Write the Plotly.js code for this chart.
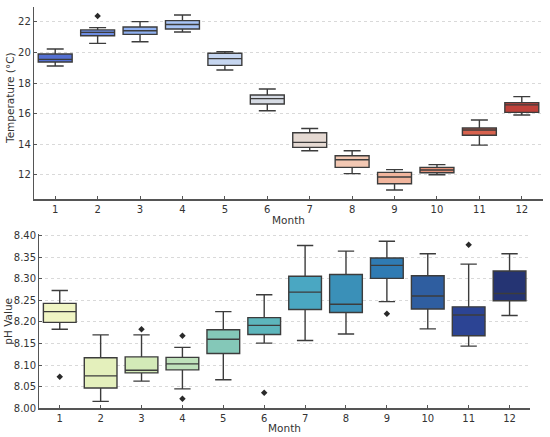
<!DOCTYPE html>
<html>
<head>
<meta charset="utf-8">
<script src="https://cdn.plot.ly/plotly-3.0.1.min.js"></script>
<style>html,body{margin:0;padding:0;background:#fff;}#chart{width:550px;height:437px;}</style>
</head>
<body>
<div id="chart"></div>
<script>
const months = [1,2,3,4,5,6,7,8,9,10,11,12];
const monthLabels = ["1","2","3","4","5","6","7","8","9","10","11","12"];

// Temperature (°C)
const tempLower  = [19.12, 20.60, 20.71, 21.34, 18.86, 16.19, 13.57, 12.07, 11.00, 12.00, 13.94, 15.91];
const tempQ1     = [19.38, 21.10, 21.19, 21.54, 19.16, 16.63, 13.79, 12.48, 11.41, 12.13, 14.58, 16.08];
const tempMedian = [19.55, 21.32, 21.43, 21.83, 19.60, 16.98, 14.12, 12.98, 11.85, 12.31, 14.93, 16.57];
const tempQ3     = [19.90, 21.48, 21.67, 22.09, 19.95, 17.22, 14.75, 13.24, 12.15, 12.48, 15.06, 16.72];
const tempUpper  = [20.23, 21.63, 22.02, 22.46, 20.06, 17.61, 15.03, 13.57, 12.33, 12.66, 15.58, 17.11];
const tempOutMonth = [2];
const tempOutVal   = [22.39];
const tempColors = ["#5470d2","#6d8ce2","#8fb0f0","#a9c5f6","#c6d6f0","#d6dbe4","#e5d9d2","#f3c8b3","#f1b59d","#e4937a","#d8624e","#c0413a"];

// pH
const phLower  = [8.183, 8.016, 8.063, 8.045, 8.066, 8.151, 8.157, 8.172, 8.247, 8.184, 8.144, 8.215];
const phQ1     = [8.199, 8.047, 8.082, 8.089, 8.127, 8.171, 8.229, 8.222, 8.301, 8.230, 8.168, 8.249];
const phMedian = [8.224, 8.075, 8.088, 8.103, 8.160, 8.192, 8.269, 8.241, 8.331, 8.260, 8.216, 8.266];
const phQ3     = [8.243, 8.117, 8.119, 8.118, 8.182, 8.210, 8.306, 8.310, 8.348, 8.307, 8.235, 8.318];
const phUpper  = [8.273, 8.170, 8.170, 8.141, 8.224, 8.263, 8.377, 8.364, 8.387, 8.358, 8.334, 8.358];
const phOutMonth = [1, 3, 4, 4, 6, 9, 11];
const phOutVal   = [8.073, 8.183, 8.168, 8.022, 8.036, 8.219, 8.379];
const phColors = ["#f0f5c4","#e4f0bc","#d3eab8","#bfe1bb","#84c8b8","#5db6bc","#4aa7c2","#3a90b8","#2f7bb3","#2f5ea0","#2c4494","#253473"];

const lineCol = "#3c3c3c";
const traces = [];
months.forEach((m, i) => {
  traces.push({
    type: "box", xaxis: "x", yaxis: "y",
    x: [m], q1: [tempQ1[i]], median: [tempMedian[i]], q3: [tempQ3[i]],
    lowerfence: [tempLower[i]], upperfence: [tempUpper[i]],
    width: 0.8, whiskerwidth: 0.5, boxpoints: false,
    fillcolor: tempColors[i], line: {color: lineCol, width: 1.4},
    hoverinfo: "skip", showlegend: false
  });
  traces.push({
    type: "box", xaxis: "x2", yaxis: "y2",
    x: [m], q1: [phQ1[i]], median: [phMedian[i]], q3: [phQ3[i]],
    lowerfence: [phLower[i]], upperfence: [phUpper[i]],
    width: 0.8, whiskerwidth: 0.5, boxpoints: false,
    fillcolor: phColors[i], line: {color: lineCol, width: 1.4},
    hoverinfo: "skip", showlegend: false
  });
});
traces.push({
  type: "scatter", mode: "markers", xaxis: "x", yaxis: "y",
  x: tempOutMonth, y: tempOutVal,
  marker: {symbol: "diamond", size: 5, color: "#2a2a2a"}, showlegend: false, hoverinfo: "skip"
});
traces.push({
  type: "scatter", mode: "markers", xaxis: "x2", yaxis: "y2",
  x: phOutMonth, y: phOutVal,
  marker: {symbol: "diamond", size: 5, color: "#2a2a2a"}, showlegend: false, hoverinfo: "skip"
});

const fontFam = "DejaVu Sans, sans-serif";
const titleFont = {family: fontFam, size: 10.5, color: "#333"};
const axCommon = {
  showline: true, linecolor: "#555", linewidth: 1.2, zeroline: false,
  ticks: "inside", ticklen: 3, tickcolor: "#555", tickwidth: 1,
  tickfont: {family: fontFam, size: 10, color: "#333"}, automargin: false
};

const layout = {
  width: 550, height: 437,
  margin: {l: 0, r: 0, t: 0, b: 0},
  paper_bgcolor: "#fff", plot_bgcolor: "#fff",
  boxmode: "overlay",
  font: {family: fontFam, color: "#333"},
  xaxis: Object.assign({}, axCommon, {
    domain: [34/550, 543/550], anchor: "y",
    range: [0.5, 12.5], tickvals: months, ticktext: monthLabels, showgrid: false
  }),
  yaxis: Object.assign({}, axCommon, {
    domain: [1 - 199.3/437, 1 - 6.7/437], anchor: "x",
    range: [10.39, 23.0], tickvals: [12,14,16,18,20,22],
    showgrid: true, gridcolor: "#d9d9d9", griddash: "dot", gridwidth: 1
  }),
  xaxis2: Object.assign({}, axCommon, {
    domain: [39.3/550, 530/550], anchor: "y2",
    range: [0.5, 12.5], tickvals: months, ticktext: monthLabels, showgrid: false
  }),
  yaxis2: Object.assign({}, axCommon, {
    domain: [1 - 408.3/437, 1 - 234.3/437], anchor: "x2",
    range: [8.0, 8.403], tickvals: [8.00,8.05,8.10,8.15,8.20,8.25,8.30,8.35,8.40], tickformat: ".2f",
    showgrid: true, gridcolor: "#d9d9d9", griddash: "dot", gridwidth: 1
  }),
  annotations: [
    {text: "Month", xref: "paper", yref: "paper", x: 288.5/550, y: 1 - 220/437, xanchor: "center", yanchor: "middle", showarrow: false, font: titleFont},
    {text: "Month", xref: "paper", yref: "paper", x: 284.6/550, y: 1 - 428/437, xanchor: "center", yanchor: "middle", showarrow: false, font: titleFont},
    {text: "Temperature (°C)", xref: "paper", yref: "paper", x: 10/550, y: 1 - 98/437, xanchor: "center", yanchor: "middle", textangle: -90, showarrow: false, font: titleFont},
    {text: "pH Value", xref: "paper", yref: "paper", x: 8/550, y: 1 - 321.7/437, xanchor: "center", yanchor: "middle", textangle: -90, showarrow: false, font: titleFont}
  ]
};

Plotly.newPlot("chart", traces, layout, {staticPlot: true, displayModeBar: false});
</script>
</body>
</html>
